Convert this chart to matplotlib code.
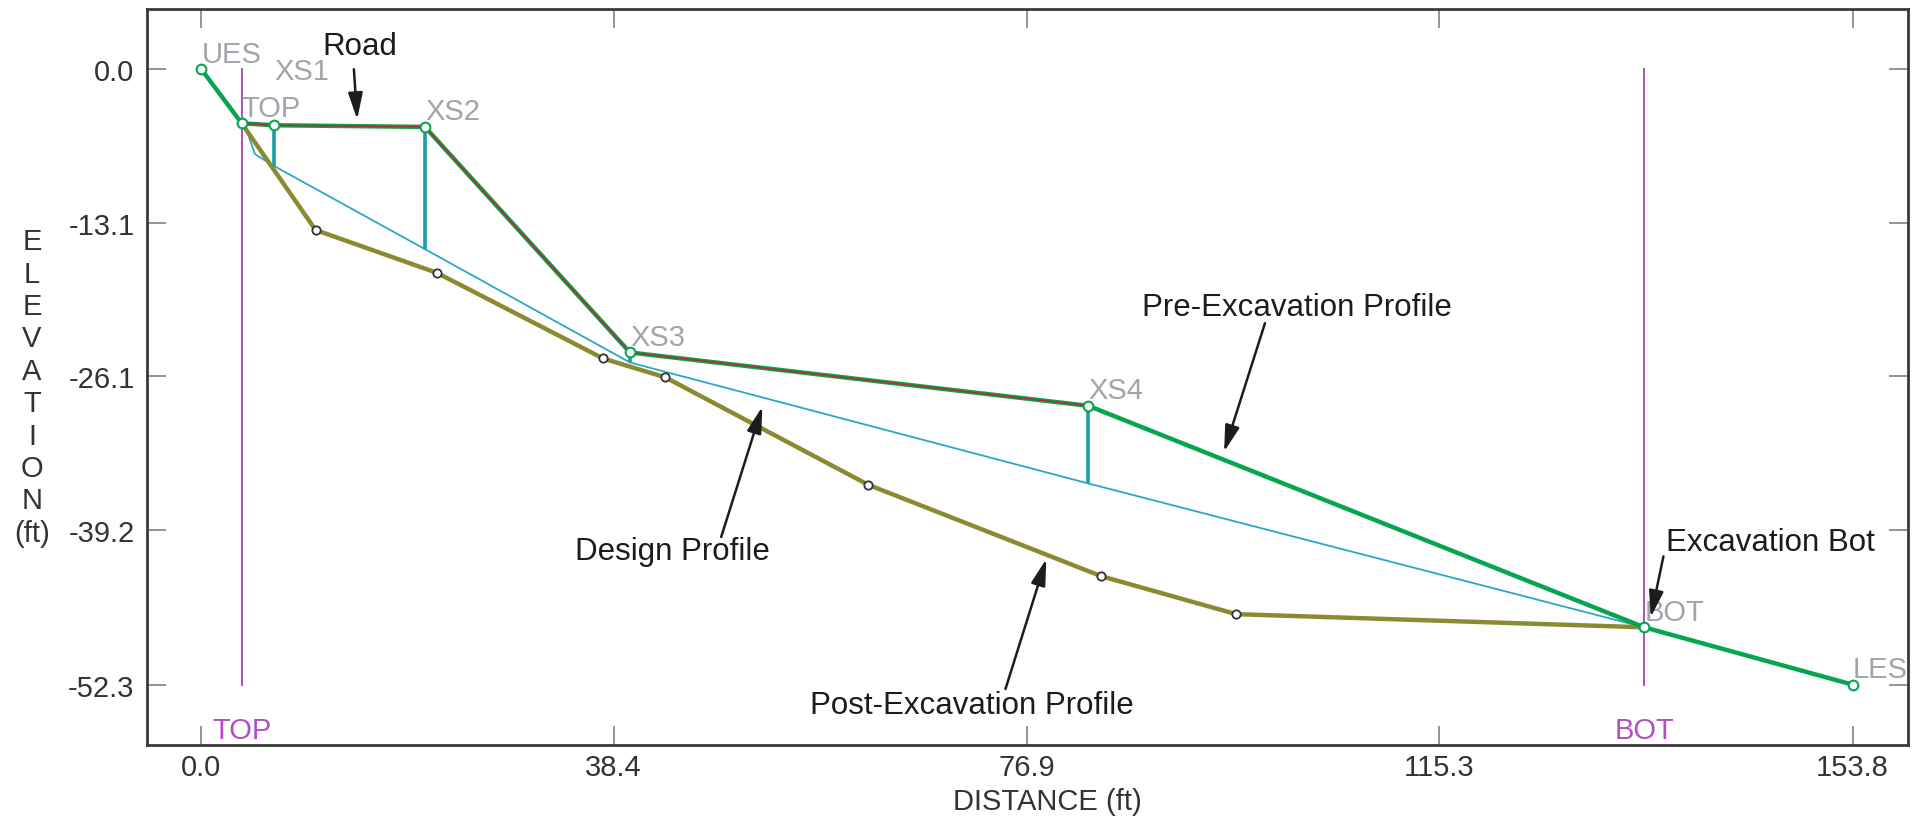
import matplotlib
matplotlib.use("Agg")
import matplotlib.pyplot as plt

plt.rcParams["font.family"] = ["Liberation Sans", "DejaVu Sans"]

# stations along the pre-excavation ground line
station_names = ["UES", "TOP", "XS1", "XS2", "XS3", "XS4", "BOT", "LES"]
station_dist = [0.0, 3.76, 6.77, 20.83, 39.92, 82.61, 134.4, 153.8]
pre_elev = [0.0, -4.59, -4.76, -4.9, -24.07, -28.6, -47.43, -52.3]

# road segment (TOP .. XS4)
road_dist = [3.76, 6.77, 20.83, 39.92, 82.61]
road_elev = [-4.59, -4.76, -4.9, -24.07, -28.6]

# cross sections: ground to design
xs_dist = [6.77, 20.83, 39.92, 82.61]
xs_top = [-4.76, -4.9, -24.07, -28.6]
xs_bottom = [-8.22, -15.29, -24.92, -35.2]

# design profile
design_dist = [3.76, 4.23, 5.0, 6.77, 20.83, 39.92, 82.61, 134.4]
design_elev = [-4.59, -5.24, -7.22, -8.22, -15.29, -24.92, -35.2, -47.43]

# post-excavation profile
post_dist = [3.76, 10.64, 21.96, 37.42, 43.23, 62.13, 83.81, 96.39, 134.4]
post_elev = [-4.59, -13.66, -17.31, -24.58, -26.19, -35.32, -43.08, -46.31, -47.43]

# excavation limits
limit_names = ["TOP", "BOT"]
limit_dist = [3.76, 134.4]
limit_range = [0.0, -52.3]

xticks = [0.0, 38.4, 76.9, 115.3, 153.8]
yticks = [0.0, -13.1, -26.1, -39.2, -52.3]

green = "#07a550"
olive = "#8c8a30"
cyan = "#2aa8c4"
teal = "#1a9eaa"
magenta = "#b050c0"
gray_lbl = "#a0a5ac"
ink = "#1c1c1c"

fig = plt.figure(figsize=(19.25, 8.2), dpi=100)
ax = fig.add_axes([147 / 1925, 1 - 746 / 820, 1761 / 1925, 736 / 820])
ax.set_xlim(-5.06, 158.96)
ax.set_ylim(-57.43, 5.12)

# excavation limit lines and labels
for name, d in zip(limit_names, limit_dist):
    ax.plot([d, d], limit_range, color=magenta, lw=1.4, zorder=1)
    ax.text(d, -56.8, name, color=magenta, fontsize=21, ha="center", va="baseline")

ax.plot(design_dist, design_elev, color=cyan, lw=1.3, zorder=2)
ax.plot(post_dist, post_elev, color=olive, lw=3.2, zorder=3)
ax.plot(post_dist[1:-1], post_elev[1:-1], "o", ms=6, mfc="white", mec="#333333", mew=1.3, zorder=6)
ax.vlines(xs_dist, xs_bottom, xs_top, color=teal, lw=2.6, zorder=4)
ax.plot(station_dist, pre_elev, color=green, lw=3.2, zorder=5)
ax.plot(road_dist, road_elev, color="#b03030", lw=1.2, zorder=5)
ax.plot(station_dist, pre_elev, "o", ms=7, mfc="white", mec=green, mew=1.5, zorder=7)

for name, d, e in zip(station_names, station_dist, pre_elev):
    dy = 33 if name == "XS1" else 5.5
    ax.annotate(name, (d, e), xytext=(0, dy), textcoords="offset points",
                color=gray_lbl, fontsize=21, ha="left", va="baseline",
                annotation_clip=False, clip_on=True)

# callouts
arrow = dict(arrowstyle="-|>,head_length=0.8,head_width=0.22", color=ink, lw=1.8,
             shrinkA=0, shrinkB=0, mutation_scale=20)
ax.text(14.73, 1.28, "Road", fontsize=22.5, color=ink, ha="center", va="baseline")
ax.annotate("", xy=(14.52, -4.26), xytext=(14.21, 0.0), arrowprops=arrow)
ax.text(102.09, -20.87, "Pre-Excavation Profile", fontsize=22.5, color=ink, ha="center", va="baseline")
ax.annotate("", xy=(95.26, -32.51), xytext=(99.07, -21.58), arrowprops=arrow)
ax.text(43.89, -41.59, "Design Profile", fontsize=22.5, color=ink, ha="center", va="baseline")
ax.annotate("", xy=(52.25, -28.68), xytext=(48.42, -39.75), arrowprops=arrow)
ax.text(71.81, -54.74, "Post-Excavation Profile", fontsize=22.5, color=ink, ha="center", va="baseline")
ax.annotate("", xy=(78.7, -41.62), xytext=(74.9, -52.67), arrowprops=arrow)
ax.text(146.16, -40.83, "Excavation Bot", fontsize=22.5, color=ink, ha="center", va="baseline")
ax.annotate("", xy=(135.0, -46.57), xytext=(136.18, -41.4), arrowprops=arrow)

ax.set_xticks(xticks)
ax.set_xticklabels([f"{v:.1f}" for v in xticks])
ax.set_yticks(yticks)
ax.set_yticklabels([f"{v:.1f}" for v in yticks])
ax.tick_params(axis="both", direction="in", length=13.5, width=1.4, color="#8a96a0",
               labelsize=21, labelcolor="#333333", top=True, right=True)
ax.tick_params(axis="x", pad=5.5)
ax.tick_params(axis="y", pad=9)
for s in ax.spines.values():
    s.set_color("#3a3a3a")
    s.set_linewidth(2)

fig.text(1047.5 / 1925, 1 - 788 / 820, "DISTANCE (ft)", fontsize=21, color="#333333",
         ha="center", va="top")
fig.text(32 / 1925, 1 - 388 / 820, "E\nL\nE\nV\nA\nT\nI\nO\nN\n(ft)", fontsize=21,
         color="#333333", ha="center", va="center", linespacing=1.2)

fig.savefig("out.png", dpi=100)
